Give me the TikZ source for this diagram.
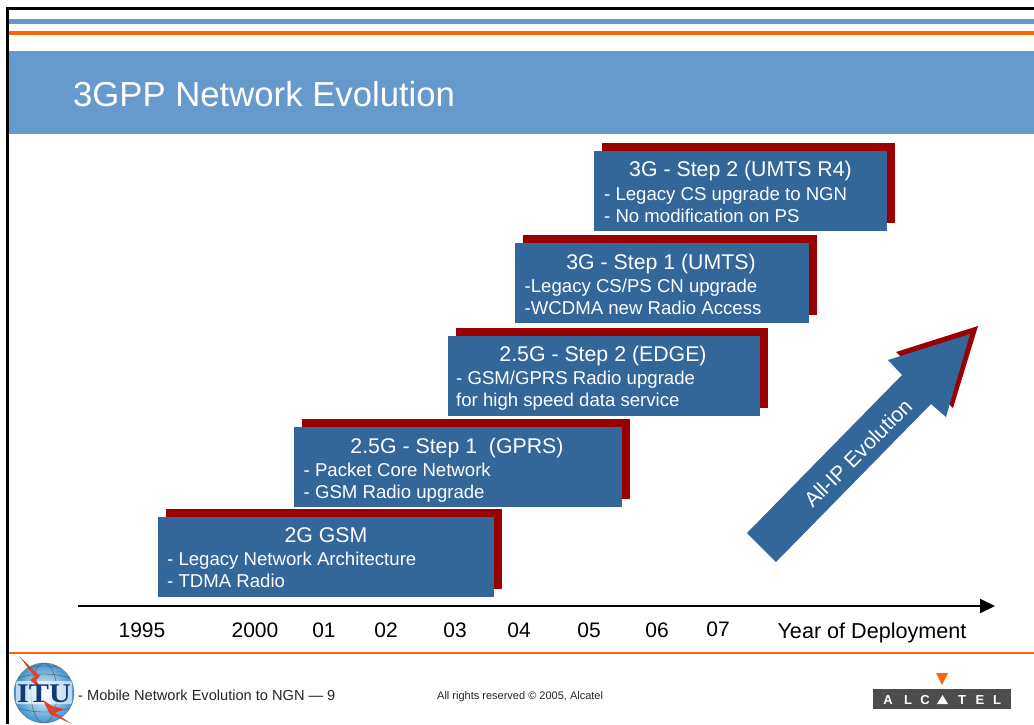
\documentclass[tikz,border=0pt]{standalone}
\usepackage{fontspec}
\setmainfont{Liberation Sans}
\newfontfamily\serifb{Liberation Serif}
\usetikzlibrary{arrows.meta,calc}
\definecolor{hdr}{HTML}{6699CC}
\definecolor{bx}{HTML}{336699}
\definecolor{rd}{HTML}{990000}
\definecolor{org}{HTML}{FF6600}
\definecolor{alc}{HTML}{4D4D4D}
\definecolor{txt}{HTML}{262626}
\definecolor{sph}{HTML}{3F94D2}
\definecolor{itub}{HTML}{103A7C}
\definecolor{bolt}{HTML}{E0402C}
\newcommand{\pxfont}[1]{\fontsize{#1}{#1}\selectfont}
\tikzset{
 x=1pt,y=-1pt,
 redbox/.style={fill=rd,draw=none},
 bluebox/.style={fill=bx,draw=none},
 head/.style={anchor=base,inner sep=0pt,text=white,font=\pxfont{21.3}},
 body/.style={anchor=base west,inner sep=0pt,text=white,font=\pxfont{18.6}},
 yearlab/.style={anchor=base,inner sep=0pt,text=black,font=\pxfont{21}},
 foot/.style={anchor=base west,inner sep=0pt,text=txt},
 alcl/.style={anchor=base,inner sep=0pt,text=white,font=\bfseries\pxfont{13}},
 meridian/.style={black!70,line width=.35pt},
}
\begin{document}
\begin{tikzpicture}
\useasboundingbox (0,0) rectangle (1034,724);
\fill[white] (0,0) rectangle (1034,724);
% frame
\fill[black] (6,7) rectangle (1034,9.5);
\fill[black] (6,7) rectangle (8.5,724);
% header bars
\fill[hdr] (8.5,19) rectangle (1034,24);
\fill[org] (8.5,31) rectangle (1034,35);
\fill[hdr] (8.5,51) rectangle (1034,134);
\node[anchor=base west,inner sep=0pt,text=white,font=\pxfont{34.7}] (title) at (73,106) {3GPP Network Evolution};
% red shadows
\fill[redbox] (166,509) rectangle (502,589);
\fill[redbox] (302,419) rectangle (630,499);
\fill[redbox] (456,328) rectangle (768,408);
\fill[redbox] (523,235) rectangle (817,315);
\fill[redbox] (602,143) rectangle (895,223);
% blue boxes
\fill[bluebox] (158,517) rectangle (494,597);
\fill[bluebox] (294,427) rectangle (622,507);
\fill[bluebox] (448,336) rectangle (760,416);
\fill[bluebox] (515,243) rectangle (809,323);
\fill[bluebox] (594,151) rectangle (887,231);
% box texts
\node[head] (a0) at (326,542) {2G GSM};
\node[body] (a1) at (167,565) {- Legacy Network Architecture};
\node[body] (a2) at (167,587) {- TDMA Radio};
\node[head] (b0) at (457,453) {2.5G - Step 1\ \ (GPRS)};
\node[body] (b1) at (303.5,476) {- Packet Core Network};
\node[body] (b2) at (303.5,498) {- GSM Radio upgrade};
\node[head] (c0) at (603,361) {2.5G - Step 2 (EDGE)};
\node[body] (c1) at (456,384) {- GSM/GPRS Radio upgrade};
\node[body] (c2) at (456,406) {for high speed data service};
\node[head] (d0) at (661,269) {3G - Step 1 (UMTS)};
\node[body] (d1) at (524.5,292) {-Legacy CS/PS CN upgrade};
\node[body] (d2) at (524.5,314) {-WCDMA new Radio Access};
\node[head] (e0) at (740.5,176) {3G - Step 2 (UMTS R4)};
\node[body] (e1) at (604,200) {- Legacy CS upgrade to NGN};
\node[body] (e2) at (604,222) {- No modification on PS};
% big arrow
\fill[rd] (978,326) -- (896,352) -- (953,408) -- cycle;
\fill[bx] (970,334) -- (888,360) -- (902,375) -- (747,533) -- (776,562) -- (931,404) -- (946,417) -- cycle;
\node[inner sep=0pt,rotate=45,text=white,font=\pxfont{21}] (arrowlab) at (858,453) {All-IP Evolution};
% axis
\coordinate (axisL) at (78,606);
\coordinate (axisR) at (995,606);
\draw[line width=2pt,-{Triangle[length=15pt,width=14pt]}] (axisL) -- (axisR);
\node[yearlab] (y1) at (142,637) {1995};
\node[yearlab] (y2) at (255,637) {2000};
\node[yearlab] (y3) at (324,637) {01};
\node[yearlab] (y4) at (386,637) {02};
\node[yearlab] (y5) at (455,637) {03};
\node[yearlab] (y6) at (519,637) {04};
\node[yearlab] (y7) at (589,637) {05};
\node[yearlab] (y8) at (657,637) {06};
\node[yearlab] (y9) at (718,636) {07};
\node[yearlab,font=\pxfont{21.6}] (ylab) at (872,638) {Year of Deployment};
% footer
\fill[org] (8.5,652.4) rectangle (1034,654);
\node[foot,font=\pxfont{14.6}] (f1) at (78,700) {- Mobile Network Evolution to NGN — 9};
\node[foot,font=\pxfont{11}] (f2) at (437,699) {All rights reserved © 2005, Alcatel};
% ITU logo
\shade[inner color=white,outer color=sph,shading=radial] (44,693) circle (30);
\begin{scope}
\clip (44,693) circle (30);
\draw[meridian] (44,663) arc[x radius=13,y radius=30,start angle=-90,end angle=90];
\draw[meridian] (44,663) arc[x radius=13,y radius=30,start angle=270,end angle=90];
\draw[meridian] (14,680) .. controls (30,672) and (58,672) .. (74,680);
\draw[meridian] (14,706) .. controls (30,714) and (58,714) .. (74,706);
\draw[meridian] (18,672) .. controls (32,664) and (58,664) .. (70,672);
\end{scope}
\draw[black!55,line width=.4pt] (44,693) circle (30);
\fill[white,opacity=.6,rounded corners=2pt] (16,681) rectangle (72,704);
\fill[bolt] (19,656) -- (35,677) -- (30,680) -- (42,690) -- (36,680) -- (40,676) -- cycle;
\node[inner sep=0pt,anchor=base,text=itub,xscale=1.12,font=\serifb\bfseries\pxfont{27}] (itu) at (44,702) {ITU};
\fill[bolt] (43,700) -- (52,706) -- (64,709) -- (55,713) -- (72,724) -- (50,714) -- cycle;
% Alcatel logo
\fill[org] (936,673) -- (948,673) -- (942,685) -- cycle;
\fill[alc] (873,689.3) rectangle (1011,708.5);
\node[alcl] (l1) at (888,704) {A};
\node[alcl] (l2) at (908,704) {L};
\node[alcl] (l3) at (925,704) {C};
\fill[white] (942.5,695) -- (948,704) -- (937,704) -- cycle;
\node[alcl] (l4) at (962,704) {T};
\node[alcl] (l5) at (980,704) {E};
\node[alcl] (l6) at (997,704) {L};
\end{tikzpicture}
\end{document}
